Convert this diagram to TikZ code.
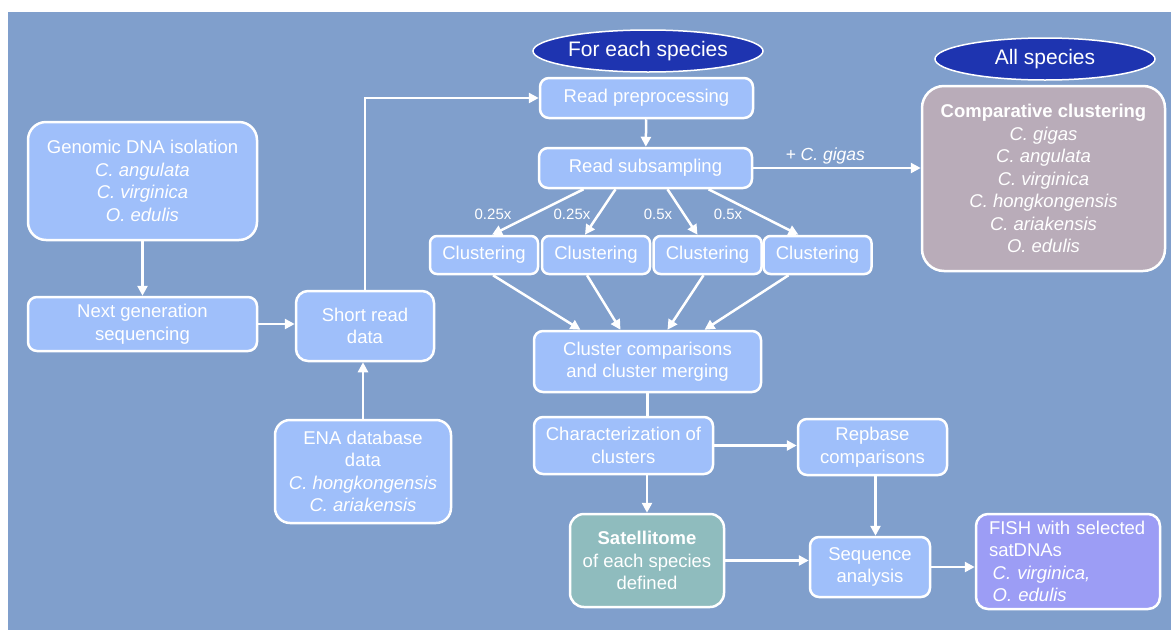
\documentclass[tikz,border=0pt]{standalone}
\usepackage{fontspec}
\setmainfont{Liberation Sans}
\usetikzlibrary{arrows.meta,shapes.geometric}

\definecolor{bgblue}{HTML}{809FCC}
\definecolor{boxblue}{HTML}{9FBFFA}
\definecolor{tagblue}{HTML}{1E34B0}
\definecolor{mauve}{HTML}{B9ACB9}
\definecolor{teal}{HTML}{8FBCBE}
\definecolor{violet}{HTML}{9C9DF5}

\tikzset{
  box/.style={draw=white, line width=2.5pt, fill=boxblue, rounded corners=9pt,
    text=white, align=center, inner sep=0pt, font=\fontsize{18.5}{22.5}\selectfont},
  tag/.style={ellipse, draw=white, line width=1.5pt, fill=tagblue, text=white,
    inner sep=0pt, font=\fontsize{21}{24}\selectfont},
  arr/.style={draw=white, line width=2.5pt, -{Triangle[length=10pt,width=10pt]}},
  lbl/.style={text=white, inner sep=0pt, font=\fontsize{15}{18}\selectfont},
}

\begin{document}
\begin{tikzpicture}[x=1pt, y=-1pt]
\useasboundingbox (0,0) rectangle (1171,630);
\fill [white] (0,0) rectangle (1171,630);
\fill [bgblue] (8,12) rectangle (1171,630);

%Input data
\node [box, rounded corners=18pt, minimum width=229pt, minimum height=118pt] (dna) at (142.5,181)
  {Genomic DNA isolation\\ \textit{C. angulata}\\ \textit{C. virginica}\\ \textit{O. edulis}};
\node [box, minimum width=229pt, minimum height=54pt] (ngs) at (142.5,324) {Next generation\\ sequencing};
\node [box, rounded corners=12pt, minimum width=138pt, minimum height=70pt] (short) at (365,326) {Short read\\ data};
\node [box, rounded corners=15pt, minimum width=176pt, minimum height=103pt] (ena) at (363,471.5)
  {ENA database\\ data\\ \textit{C. hongkongensis}\\ \textit{C. ariakensis}};

%For each species
\node [tag, minimum width=230pt, minimum height=42pt] (each) at (648,51) {For each species};
\node [box, minimum width=213pt, minimum height=40pt] (pre) at (646.5,98) {Read preprocessing};
\node [box, minimum width=213pt, minimum height=40pt] (sub) at (645.5,168) {Read subsampling};
\foreach \i/\x in {1/484,2/596,3/707.5,4/817.5}
  \node [box, rounded corners=7pt, minimum width=108pt, minimum height=38pt] (cl\i) at (\x,255) {Clustering};
\foreach \x/\ytext in {493/0.25x,572/0.25x,658/0.5x,728/0.5x}
  \node [lbl] (frac\x) at (\x,214) {\ytext};
\node [box, minimum width=227pt, minimum height=61pt] (merge) at (647.5,361.5) {Cluster comparisons\\ and cluster merging};
\node [box, minimum width=179pt, minimum height=57pt] (char) at (623.5,445.5) {Characterization of\\ clusters};
\node [box, minimum width=149pt, minimum height=56pt] (rep) at (872.5,447) {Repbase\\ comparisons};
\node [box, rounded corners=14pt, fill=teal, minimum width=154pt, minimum height=93pt] (sat) at (647,560.5)
  {\textbf{Satellitome}\\ of each species\\ defined};
\node [box, minimum width=120pt, minimum height=60pt] (seq) at (870,567) {Sequence\\ analysis};
\node [box, rounded corners=12pt, fill=violet, align=left, text width=158pt, inner xsep=13pt, minimum height=95pt] (fish) at (1068,561.5)
  {FISH with selected\\ satDNAs\\ \hspace{0.2em}\textit{C. virginica,}\\ \hspace{0.2em}\textit{O. edulis}};

%All species
\node [tag, minimum width=220pt, minimum height=42pt] (all) at (1045,59) {All species};
\node [box, rounded corners=22pt, fill=mauve, minimum width=243pt, minimum height=185pt] (cc) at (1043.5,178.5)
  {\textbf{Comparative clustering}\\ \textit{C. gigas}\\ \textit{C. angulata}\\ \textit{C. virginica}\\
   \textit{C. hongkongensis}\\ \textit{C. ariakensis}\\ \textit{O. edulis}};

%Arrows
\draw [arr] (dna) -- (ngs);
\draw [arr] (ngs.east) -- (ngs.east -| short.west);
\draw [arr] (ena.north) -- (ena.north |- short.south);
\draw [arr] (short.north) |- (pre.west);
\draw [arr] (pre) -- (sub);
\draw [arr] (sub.east) -- (sub.east -| cc.west)
  node [pos=0.43, above, inner sep=3pt, text=white, font=\fontsize{17.5}{20}\selectfont] (gig) {\textit{+ C. gigas}};
\draw [arr] ([xshift=-62pt]sub.south) -- ([xshift=8pt]cl1.north);
\draw [arr] ([xshift=-30pt]sub.south) -- ([xshift=-11pt]cl2.north);
\draw [arr] ([xshift=22pt]sub.south) -- ([xshift=-10pt]cl3.north);
\draw [arr] ([xshift=63pt]sub.south) -- ([xshift=-19pt]cl4.north);
\draw [arr] ([xshift=9pt]cl1.south) -- ([xshift=-67pt]merge.north);
\draw [arr] ([xshift=-9pt]cl2.south) -- ([xshift=-27pt]merge.north);
\draw [arr] ([xshift=-4pt]cl3.south) -- ([xshift=20pt]merge.north);
\draw [arr] ([xshift=-29pt]cl4.south) -- ([xshift=57pt]merge.north);
\draw [white, line width=2.5pt] (merge.south) -- (merge.south |- char.north);
\draw [arr] (char.east) -- (char.east -| rep.west);
\draw [arr] (char.south -| sat.north) -- (sat.north);
\draw [arr] ([xshift=3pt]rep.south) -- ([xshift=3pt]rep.south |- seq.north);
\draw [arr] (sat.east) -- (sat.east -| seq.west);
\draw [arr] (seq.east) -- (seq.east -| fish.west);

\end{tikzpicture}
\end{document}
